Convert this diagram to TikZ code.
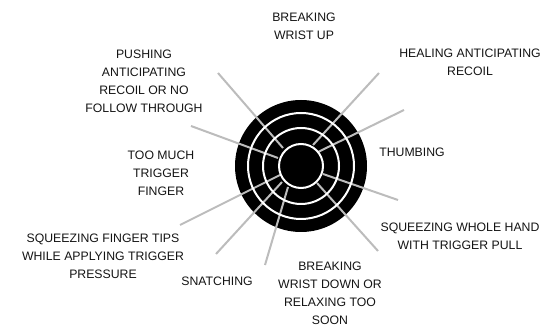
\documentclass[tikz,border=0pt]{standalone}
\usepackage{fontspec}
\setmainfont{Liberation Sans}
\definecolor{spokegrey}{RGB}{188,188,188}
\definecolor{labelgrey}{RGB}{20,20,20}
\begin{document}
\begin{tikzpicture}[x=0.75pt,y=-0.75pt,
  lbl/.style={align=center,inner sep=0pt,text=labelgrey,font=\fontsize{9.2pt}{13.6pt}\selectfont},
  spoke/.style={draw=spokegrey,line width=1.5pt},
  ring/.style={draw=white,line width=1.5pt}]
\useasboundingbox (0,0) rectangle (542,327);
% target
\fill[black] (301,166) circle[radius=66*0.75pt];
\coordinate (c) at (301,166);
% spokes: inner and outer ends
\coordinate (i1) at (283,148); \coordinate (o1) at (218,73);
\coordinate (i2) at (278,158); \coordinate (o2) at (191,126);
\coordinate (i3) at (313,145); \coordinate (o3) at (379,73);
\coordinate (i4) at (318,152); \coordinate (o4) at (404,110);
\coordinate (i5) at (323,174); \coordinate (o5) at (398,200);
\coordinate (i6) at (317,183); \coordinate (o6) at (378,251);
\coordinate (i7) at (288,187); \coordinate (o7) at (265,265);
\coordinate (i8) at (282,182); \coordinate (o8) at (216,254);
\coordinate (i9) at (280,175); \coordinate (o9) at (180,225);
\foreach \k in {1,...,9} {\draw[spoke] (i\k) -- (o\k);}
\draw[ring] (c) circle[radius=22*0.75pt];
\draw[ring] (c) circle[radius=38*0.75pt];
\draw[ring] (c) circle[radius=53*0.75pt];
% labels
\node[lbl] (wup) at (304,26) {BREAKING\\WRIST UP};
\node[lbl] (heal) at (470,62) {HEALING ANTICIPATING\\RECOIL};
\node[lbl] (thumb) at (412,152) {THUMBING};
\node[lbl] (whole) at (460,236) {SQUEEZING WHOLE HAND\\WITH TRIGGER PULL};
\node[lbl] (wdown) at (330,293) {BREAKING\\WRIST DOWN OR\\RELAXING TOO\\SOON};
\node[lbl] (snatch) at (217,281) {SNATCHING};
\node[lbl] (tips) at (103,256) {SQUEEZING FINGER TIPS\\WHILE APPLYING TRIGGER\\PRESSURE};
\node[lbl] (toomuch) at (161,173) {TOO MUCH\\TRIGGER\\FINGER};
\node[lbl] (push) at (144,81) {PUSHING\\ANTICIPATING\\RECOIL OR NO\\FOLLOW THROUGH};
\end{tikzpicture}
\end{document}
